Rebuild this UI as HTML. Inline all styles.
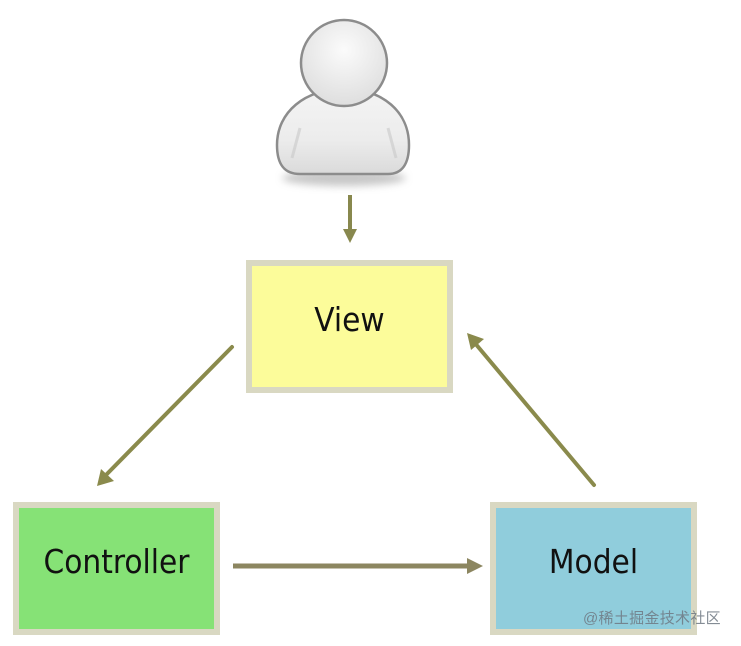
<!DOCTYPE html>
<html>
<head>
<meta charset="utf-8">
<style>
  html, body { margin:0; padding:0; background:#fff; }
  body { width:741px; height:646px; position:relative; overflow:hidden; }
  .box { position:absolute; box-sizing:border-box; border:6px solid #d9d8c2; display:flex; align-items:center; justify-content:center; padding-bottom:14px; font-family:"DejaVu Sans Condensed","Liberation Sans",sans-serif; font-size:33px; color:#111; }
  .wm { position:absolute; left:583px; top:607px; font-family:"Liberation Sans","Noto Sans CJK SC",sans-serif; font-size:15px; color:rgba(110,120,130,0.85); white-space:nowrap; letter-spacing:0.3px; }
</style>
</head>
<body>
<svg width="741" height="646" style="position:absolute;left:0;top:0" xmlns="http://www.w3.org/2000/svg">
  <defs>
    <radialGradient id="hg" cx="0.5" cy="0.35" r="0.7">
      <stop offset="0" stop-color="#fbfbfb"/>
      <stop offset="1" stop-color="#dcdcdc"/>
    </radialGradient>
    <linearGradient id="bg" x1="0" y1="0" x2="0" y2="1">
      <stop offset="0" stop-color="#f4f4f4"/>
      <stop offset="0.6" stop-color="#ececec"/>
      <stop offset="1" stop-color="#dadada"/>
    </linearGradient>
    <filter id="blur" x="-20%" y="-50%" width="140%" height="200%"><feGaussianBlur stdDeviation="4"/></filter>
  </defs>
  <!-- shadow -->
  <ellipse cx="344" cy="178" rx="62" ry="8" fill="#b5b5b5" filter="url(#blur)" opacity="0.75"/>
  <!-- body -->
  <path d="M300 174 C284 174 277 164 277 145 C277 112 305 89 344 89 C383 89 409 112 409 145 C409 164 402 174 388 174 Z" fill="url(#bg)" stroke="#8c8c8c" stroke-width="2.5"/>
  <path d="M292 158 L300 128" stroke="#c8c8c8" stroke-width="3" fill="none" opacity="0.6"/>
  <path d="M396 158 L388 128" stroke="#c8c8c8" stroke-width="3" fill="none" opacity="0.6"/>
  <!-- head -->
  <circle cx="344" cy="63" r="43" fill="url(#hg)" stroke="#8c8c8c" stroke-width="2.5"/>

  <!-- top arrow -->
  <line x1="350" y1="195" x2="350" y2="230" stroke="#88884e" stroke-width="4"/>
  <polygon points="343,229 357,229 350,243" fill="#88884e"/>

  <!-- View -> Controller -->
  <line x1="232" y1="347" x2="104" y2="477" stroke="#8a8a4c" stroke-width="4" stroke-linecap="round"/>
  <polygon points="97,486 101,469 114,481" fill="#8a8a4c"/>

  <!-- Model -> View -->
  <line x1="594" y1="485" x2="474" y2="342" stroke="#8a8a4c" stroke-width="4" stroke-linecap="round"/>
  <polygon points="467,333 484,339 471,350" fill="#8a8a4c"/>

  <!-- Controller -> Model -->
  <line x1="233" y1="566" x2="468" y2="566" stroke="#8c8660" stroke-width="5"/>
  <polygon points="467,558 467,574 483,566" fill="#8c8660"/>
</svg>

<div class="box" style="left:246px;top:260px;width:207px;height:133px;background:#fcfc9a;">View</div>
<div class="box" style="left:13px;top:502px;width:207px;height:133px;background:#86e276;">Controller</div>
<div class="box" style="left:490px;top:502px;width:207px;height:133px;background:#90cddc;">Model</div>
<div class="wm">@稀土掘金技术社区</div>
</body>
</html>
